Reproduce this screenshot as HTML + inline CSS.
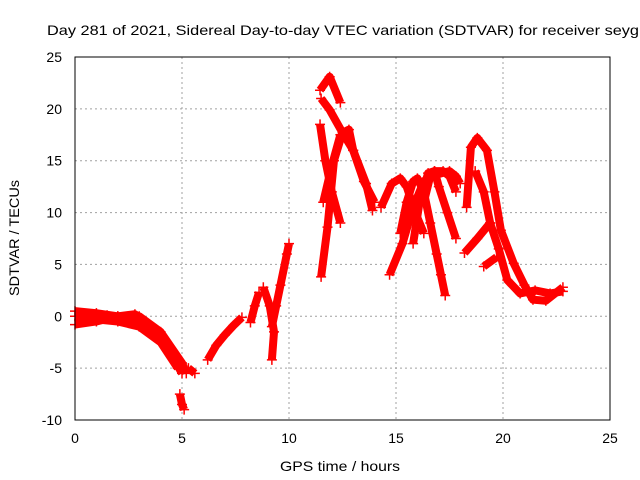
<!DOCTYPE html>
<html><head><meta charset="utf-8"><style>
body{margin:0;background:#fff;}
svg{display:block;font-family:"Liberation Sans",sans-serif;}
</style></head><body>
<svg id="chart" width="640" height="480" viewBox="0 0 640 480">
<text x="47" y="35" font-size="14" fill="#000" textLength="592" lengthAdjust="spacingAndGlyphs">Day 281 of 2021, Sidereal Day-to-day VTEC variation (SDTVAR) for receiver seyg</text>
<g id="grid"></g>
<g id="ticks"></g>
<g id="marks"></g>
<rect x="75" y="57" width="535" height="363" fill="none" stroke="#000" stroke-width="1"/>
<text x="340" y="471" font-size="14" text-anchor="middle" textLength="120" lengthAdjust="spacingAndGlyphs">GPS time / hours</text>
<text transform="translate(19,238) rotate(-90)" font-size="14" text-anchor="middle" textLength="116" lengthAdjust="spacingAndGlyphs">SDTVAR / TECUs</text>
</svg>
<script>
const xTicks=[0,5,10,15,20,25];
const yTicks=[-10,-5,0,5,10,15,20,25];
const trackA=[[0,0],[1,-0.3],[2,-0.5],[3,-1],[4,-2.5],[4.8,-5]];
const trackB=[[0,-0.8],[1,-0.5],[2,0],[2.8,0.2],[3.5,-1],[4.3,-3],[5,-5.5]];
const trackC=[[0,0.5],[1,0.3],[2,0],[3,0],[4,-1.5],[5,-4.5],[5.2,-5.5]];
const trackC2=[[0.2,-0.3],[1.5,0.1],[2.5,-0.2],[3.3,-0.5],[4.1,-2],[4.7,-4]];
const trackD=[[4.9,-7.5],[5,-8.5],[5.1,-9]];
const trackE=[[5.3,-5],[5.6,-5.5]];
const trackF=[[6.2,-4.2],[6.6,-2.8],[7,-1.8],[7.4,-0.9],[7.8,-0.1]];
const trackG=[[8.2,-0.6],[8.4,1],[8.6,2.3]];
const trackH=[[8.8,2.8],[9.1,1],[9.3,-1.5],[9.2,-4.2]];
const trackI=[[9.2,-1],[9.4,1],[9.6,3],[9.9,6],[10,7]];
const trackJ=[[11.45,21.8],[11.9,23.1],[12.4,20.6]];
const trackK=[[11.5,21],[11.9,19.9],[12.5,17.7],[13,16],[13.6,12.8],[13.9,10.2]];
const trackL=[[11.5,3.8],[11.8,8.6],[12.1,15],[12.5,17.7],[12.8,18],[13,16],[13.5,13],[14,11]];
const trackM=[[11.45,18.5],[11.7,15],[12,12],[12.4,9]];
const trackN=[[11.6,11],[12,14.5],[12.4,17.5]];
const trackO=[[14.3,10.5],[14.8,12.8],[15.2,13.3],[15.5,12.5],[15.9,10],[16.3,8]];
const trackP=[[14.7,4],[15.3,7],[15.8,10.5],[16.3,13],[16.8,14],[17.2,14],[17.5,13.5],[17.8,12]];
const trackQ=[[15.2,8],[15.5,11],[15.8,13],[16,13.3],[16.3,12],[16.6,9],[16.9,6],[17.1,4],[17.3,2]];
const trackR=[[15.8,7],[16.1,11],[16.5,13.8],[16.8,14],[17,12.5],[17.4,10],[17.8,7.5]];
const trackS=[[16.3,11],[16.6,13.5],[17.5,14],[17.8,13.5],[18,12.8]];
const trackT=[[18.3,10.5],[18.5,16.3],[18.8,17.2],[19.25,16],[19.6,12],[19.9,8.3],[20.5,5.1],[21,3],[21.4,1.6],[22,1.5],[22.8,2.8]];
const trackU=[[18.7,14],[19.1,12],[19.4,9],[19.8,6.5],[20.2,3.5],[20.8,2.2],[21.5,2.5],[22.2,2.2],[22.8,2.4]];
const trackV=[[18.2,6.1],[18.8,7.5],[19.4,9]];
const trackW=[[19.1,4.8],[19.7,5.7]];
const tracks=[trackA,trackB,trackC,trackC2,trackD,trackE,trackF,trackG,trackH,trackI,trackJ,trackK,trackL,trackM,trackN,trackO,trackP,trackQ,trackR,trackS,trackT,trackU,trackV,trackW];
const NS="http://www.w3.org/2000/svg";
const X0=75,X1=610,Y0=420,Y1=57;
function sx(h){return X0+(h-0)/(25-0)*(X1-X0);}
function sy(v){return Y0-(v+10)/(35)*(Y0-Y1);}
const grid=document.getElementById('grid'),ticks=document.getElementById('ticks'),marks=document.getElementById('marks');
xTicks.forEach(t=>{
 const x=sx(t);
 if(t>0&&t<25){const g=document.createElementNS(NS,'line');
 
 
 g.setAttribute('x1',x);g.setAttribute('x2',x);g.setAttribute('y1',Y1);g.setAttribute('y2',Y0);
 g.setAttribute('stroke','#a0a0a0');g.setAttribute('stroke-dasharray','2,3');grid.appendChild(g);}
 const l=document.createElementNS(NS,'text');
 
 
 l.setAttribute('x',x);l.setAttribute('y',443);l.setAttribute('font-size','14');l.setAttribute('text-anchor','middle');
 l.textContent=t;ticks.appendChild(l);
});
yTicks.forEach(t=>{
 const y=sy(t);
 if(t>-10&&t<25){const g=document.createElementNS(NS,'line');
 
 
 g.setAttribute('x1',X0);g.setAttribute('x2',X1);g.setAttribute('y1',y);g.setAttribute('y2',y);
 g.setAttribute('stroke','#a0a0a0');g.setAttribute('stroke-dasharray','2,3');grid.appendChild(g);}
 const l=document.createElementNS(NS,'text');
 
 
 l.setAttribute('x',62);l.setAttribute('y',y+5);l.setAttribute('font-size','14');l.setAttribute('text-anchor','end');
 l.textContent=t;ticks.appendChild(l);
});
tracks.forEach(tr=>{
 const p=document.createElementNS(NS,'polyline');
 
 
 p.setAttribute('points',tr.map(d=>sx(d[0])+','+sy(d[1])).join(' '));
 p.setAttribute('fill','none');p.setAttribute('stroke','#f00');p.setAttribute('stroke-width','8');
 p.setAttribute('stroke-linejoin','round');
 marks.appendChild(p);
 tr.forEach(d=>{
  const c=document.createElementNS(NS,'path');
  
  
  const x=sx(d[0]),y=sy(d[1]);
  c.setAttribute('d',`M${x-5},${y}H${x+5}M${x},${y-5}V${y+5}`);
  c.setAttribute('stroke','#f00');c.setAttribute('stroke-width','1.5');
  marks.appendChild(c);
 });
});
</script>
</body></html>
